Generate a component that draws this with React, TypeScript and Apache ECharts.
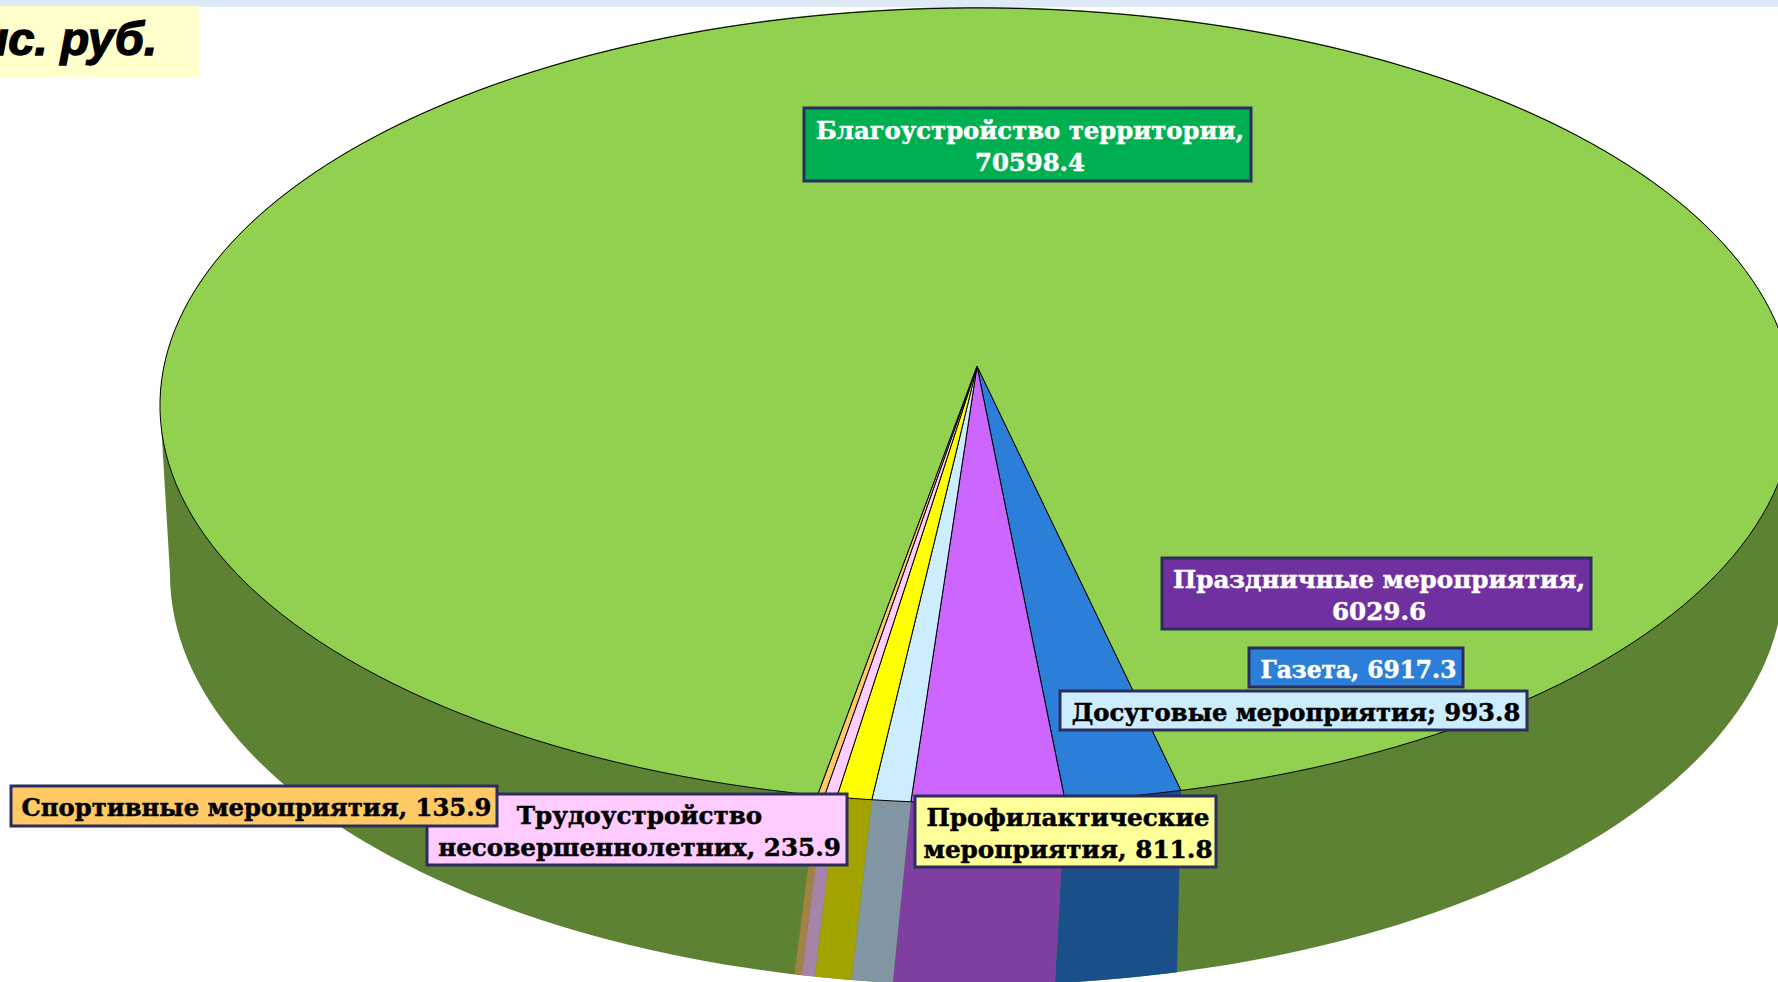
import React, { useEffect, useRef } from "react";
import * as echarts from "echarts";

// Slices in the order they run round the pie, starting at the right edge of the blue slice.
const sliceNames = [
  "Газета",
  "Праздничные мероприятия",
  "Досуговые мероприятия",
  "Профилактические мероприятия",
  "Трудоустройство несовершеннолетних",
  "Спортивные мероприятия",
  "Благоустройство территории",
];
// Printed values from the data labels.
const labelValues = [6917.3, 6029.6, 993.8, 811.8, 235.9, 135.9, 70598.4];
// The reference's wedges do not follow the printed values, so the sweep of each
// wedge (degrees) is read from the picture separately.
const drawnSweeps = [7.5, 9.8, 2.5, 2.25, 0.8, 0.45, 336.7];
const topColors = ["#2B7FD9", "#CC66FF", "#CCECFF", "#FFFF00", "#FFCCFF", "#FFC966", "#92D050"];
const wallColors = ["#1B4F8A", "#7F3FA0", "#8295A3", "#A3A300", "#A784A7", "#A38245", "#5E8233"];

const START_ANGLE = 13.1;
const APEX = { x: 977, y: 366 };
const TOP = { a: 813, b: 393.6, k: 0.0994 };
const TOP_ELL = { cx: 977, cy: 405, a: 817, b: 398 };
const LOW_ELL = { cx: 977, cy: 574, a: 807, b: 411 };

const rad = (d: number) => (d * Math.PI) / 180;
const topPoint = (deg: number): [number, number] => {
  const u = Math.sin(rad(deg));
  const v = Math.cos(rad(deg));
  const d = 1 - TOP.k * v;
  return [APEX.x + (TOP.a * u) / d, APEX.y + (TOP.b * v) / d];
};
const lowPoint = (deg: number): [number, number] => {
  const [xt] = topPoint(deg);
  const x = xt - (4 + (1181 - xt) * 0.0523);
  const t = Math.min(1, Math.abs(x - LOW_ELL.cx) / LOW_ELL.a);
  return [x, LOW_ELL.cy + LOW_ELL.b * Math.sqrt(1 - t * t)];
};
const edges = (i: number) => {
  let s = START_ANGLE;
  for (let j = 0; j < i; j++) s -= drawnSweeps[j];
  return [s, s - drawnSweeps[i]];
};
const samples = (a: number, b: number) => {
  const n = Math.max(2, Math.ceil(Math.abs(a - b) / 1.5));
  return Array.from({ length: n + 1 }, (_, i) => a + ((b - a) * i) / n);
};

const renderTop = (params: any) => {
  const [a, b] = edges(params.dataIndex);
  const points = [[APEX.x, APEX.y], ...samples(a, b).map(topPoint)];
  return {
    type: "polygon",
    shape: { points },
    style: { fill: topColors[params.dataIndex], stroke: "#000", lineWidth: 1 },
  };
};
const renderWall = (params: any) => {
  const i = params.dataIndex;
  if (i === sliceNames.length - 1) {
    const lower = samples(0, 180).map((t) => [
      LOW_ELL.cx + LOW_ELL.a * Math.cos(rad(t)),
      LOW_ELL.cy + LOW_ELL.b * Math.sin(rad(t)),
    ]);
    const upper = samples(180, 360).map((t) => [
      TOP_ELL.cx + TOP_ELL.a * Math.cos(rad(t)),
      TOP_ELL.cy + TOP_ELL.b * Math.sin(rad(t)),
    ]);
    return {
      type: "polygon",
      z2: 0,
      shape: { points: [...lower, ...upper] },
      style: { fill: wallColors[i] },
    };
  }
  const [a, b] = edges(i);
  const s = samples(a, b);
  return {
    type: "polygon",
    z2: 1,
    shape: { points: [...s.map(topPoint), ...s.slice().reverse().map(lowPoint)] },
    style: { fill: wallColors[i] },
  };
};

const labelPrefixes = [
  "Газета, ",
  "Праздничные мероприятия,\n",
  "Досуговые мероприятия; ",
  "Профилактические\nмероприятия, ",
  "Трудоустройство\nнесовершеннолетних, ",
  "Спортивные мероприятия, ",
  "Благоустройство территории,\n",
];
// Box corners for each label, same order as the slices; later entries in labelOrder sit on top.
const labelBoxes = [
  [1249, 648, 1463, 687],
  [1162, 558, 1591, 629],
  [1060, 691, 1527, 730],
  [915, 796, 1216, 867],
  [427, 794, 847, 865],
  [11, 786, 497, 826],
  [804, 108, 1251, 181],
];
const labelInk = ["#FFFFFF", "#FFFFFF", "#000000", "#000000", "#000000", "#000000", "#FFFFFF"];
const labelFills = ["#2B7FD9", "#7030A0", "#CCECFF", "#FFFF99", "#FFCCFF", "#FFC966", "#00B050"];
const labelSizes = [23.3, 24.6, 24.25, 24.7, 24.6, 24.25, 24.3];
const labelOrder = [6, 1, 0, 2, 3, 4, 5];

const labelGraphics = labelOrder.flatMap((i, n) => {
  const [x0, y0, x1, y1] = labelBoxes[i];
  return [
    {
      type: "rect",
      z: 100 + n * 2,
      shape: { x: x0, y: y0, width: x1 - x0, height: y1 - y0 },
      style: { fill: labelFills[i], stroke: "#2A2D5E", lineWidth: 3 },
    },
    {
      type: "text",
      z: 101 + n * 2,
      x: (x0 + x1) / 2 + 2.5,
      y: (y0 + y1) / 2 + 1.5,
      style: {
        text: labelPrefixes[i] + labelValues[i].toFixed(1),
        fill: labelInk[i],
        stroke: labelInk[i],
        lineWidth: 0.5,
        font: `bold ${labelSizes[i]}px "DejaVu Serif"`,
        lineHeight: 32,
        align: "center",
        verticalAlign: "middle",
      },
    },
  ];
});

export default function App() {
  const ref = useRef<HTMLDivElement>(null);
  useEffect(() => {
    const chart = echarts.init(ref.current!, null, { renderer: "svg" });
    chart.setOption({
      animation: false,
      backgroundColor: "#FFFFFF",
      series: [
        {
          type: "custom",
          coordinateSystem: "none",
          z: 1,
          silent: true,
          renderItem: renderWall,
          data: drawnSweeps.map((v, i) => ({ name: sliceNames[i], value: v })),
        },
        {
          type: "custom",
          coordinateSystem: "none",
          z: 2,
          silent: true,
          renderItem: renderTop,
          data: drawnSweeps.map((v, i) => ({ name: sliceNames[i], value: v })),
        },
      ],
      graphic: [
        {
          type: "rect",
          z: 90,
          shape: { x: 0, y: 0, width: 1778, height: 7 },
          style: { fill: "#DEEAF6" },
        },
        {
          type: "rect",
          z: 91,
          shape: { x: 0, y: 6, width: 199, height: 71 },
          style: { fill: "#FFFFCC" },
        },
        {
          type: "text",
          z: 92,
          x: 157,
          y: 38,
          style: {
            text: "тыс. руб.",
            fill: "#000",
            stroke: "#000",
            lineWidth: 1.4,
            font: 'italic bold 47px "Liberation Sans"',
            align: "right",
            verticalAlign: "middle",
          },
        },
        ...labelGraphics,
      ],
    });
    return () => chart.dispose();
  }, []);
  return (
    <div
      ref={ref}
      style={{ position: "fixed", left: 0, top: 0, width: 1778, height: 982 }}
    />
  );
}
